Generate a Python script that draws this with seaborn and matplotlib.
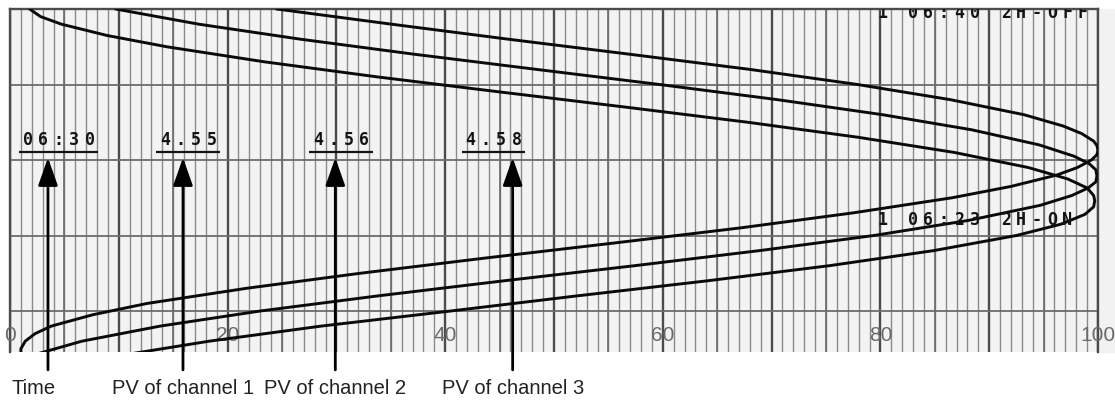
import matplotlib
matplotlib.use("Agg")
import matplotlib.pyplot as plt
import matplotlib.transforms as mtransforms
from matplotlib.patches import Rectangle
from matplotlib.ticker import MultipleLocator
import pandas as pd
import seaborn as sns

# chart paper: value scale 0..100 across, time runs upward in grid divisions
ch1_time = [4.00, 3.80, 3.60, 3.40, 3.20, 3.00, 2.80, 2.60, 2.45, 2.35, 2.25, 2.19, 2.13,
            2.07, 2.00, 1.90, 1.80, 1.65, 1.50, 1.30, 1.10, 0.90, 0.70, 0.50, 0.30, 0.10,
            -0.05, -0.20, -0.30, -0.40, -0.50, -0.56]
ch1_value = [24.5, 35.0, 45.8, 57.0, 68.0, 77.9, 86.4, 93.2, 96.8, 98.5, 99.6, 99.9, 100.0,
             99.9, 99.4, 98.1, 96.2, 92.0, 86.6, 77.5, 67.1, 55.5, 43.6, 32.2, 21.7, 12.6,
             7.6, 3.8, 2.3, 1.4, 1.0, 1.0]

ch2_time = [4.00, 3.80, 3.60, 3.40, 3.20, 3.00, 2.80, 2.60, 2.40, 2.20, 2.05, 1.95, 1.87,
            1.79, 1.71, 1.63, 1.53, 1.40, 1.20, 1.00, 0.80, 0.60, 0.40, 0.20, 0.00, -0.20,
            -0.40, -0.56]
ch2_value = [9.7, 17.3, 26.7, 37.2, 48.4, 59.7, 70.5, 80.2, 88.4, 94.6, 97.8, 99.2, 99.8,
             99.9, 99.8, 99.1, 97.6, 94.7, 88.1, 79.4, 68.9, 57.4, 45.4, 33.8, 23.0, 13.8,
             6.6, 2.7]

ch3_time = [4.00, 3.90, 3.80, 3.65, 3.50, 3.30, 3.10, 2.90, 2.70, 2.50, 2.30, 2.10, 1.90,
            1.75, 1.63, 1.53, 1.46, 1.38, 1.28, 1.15, 1.00, 0.80, 0.60, 0.40, 0.20, 0.00,
            -0.20, -0.40, -0.56]
ch3_value = [1.8, 2.8, 4.7, 8.9, 14.4, 23.4, 33.8, 45.1, 56.6, 67.8, 78.0, 86.8, 93.6,
             97.2, 99.0, 99.6, 99.7, 99.6, 98.8, 96.6, 92.5, 84.9, 75.3, 64.1, 52.1, 40.5,
             28.6, 18.3, 11.4]

scale_labels = [0, 20, 40, 60, 80, 100]
printed_values = ["06:30", "4.55", "4.56", "4.58"]
event_top = "1 06:40 2H-OFF"
event_mid = "1 06:23 2H-ON"
captions = ["Time", "PV of channel 1", "PV of channel 2", "PV of channel 3"]

# layout (data units of the paper)
print_x = [1.65, 14.25, 28.3, 42.3]
arrow_x = [3.49, 15.9, 29.9, 46.2]
pitch = 1.42


def dot_print(ax, x0, y, text, size=12):
    # recorder prints with a fixed wide character pitch
    for i, ch in enumerate(text):
        if ch == " ":
            continue
        ax.text(x0 + i * pitch, y, ch, ha="center", va="baseline",
                family="DejaVu Sans Mono", weight="bold", fontsize=size,
                color="#141414", clip_on=True, zorder=5)


def main() -> None:
    sns.set_style("white")
    plt.rcParams["font.family"] = ["Liberation Sans", "DejaVu Sans"]

    frames = []
    for name, t, v in [("ch1", ch1_time, ch1_value),
                       ("ch2", ch2_time, ch2_value),
                       ("ch3", ch3_time, ch3_value)]:
        frames.append(pd.DataFrame({"time": t, "value": v, "channel": name}))
    df = pd.concat(frames, ignore_index=True)

    fig = plt.figure(figsize=(11.15, 4.01), dpi=100)
    fig.patch.set_facecolor("white")
    ax = fig.add_axes([10 / 1115, 49 / 401, 1088 / 1115, 343 / 401])
    ax.set_facecolor("#f3f3f3")
    ax.set_xlim(0, 100)
    ax.set_ylim(-0.543, 4.0)

    # margin of paper to the right of the 100 line
    fig.patches.append(Rectangle((1098 / 1115, 49 / 401), 17 / 1115, 343 / 401,
                                 transform=fig.transFigure, color="#f2f2f2", zorder=-5))

    ax.xaxis.set_major_locator(MultipleLocator(10))
    ax.xaxis.set_minor_locator(MultipleLocator(1))
    ax.yaxis.set_major_locator(MultipleLocator(1))
    ax.grid(which="minor", axis="x", color="#8a8a8a", lw=1.0)
    ax.grid(which="major", axis="x", color="#4c4c4c", lw=1.7)
    ax.grid(which="major", axis="y", color="#6c6c6c", lw=1.3)
    for x in range(5, 100, 10):
        ax.axvline(x, color="#6a6a6a", lw=1.2, zorder=0.6)
    ax.set_axisbelow(True)
    ax.tick_params(which="both", length=0, labelbottom=False, labelleft=False)
    for side in ["left", "right", "top"]:
        ax.spines[side].set_color("#4c4c4c")
        ax.spines[side].set_linewidth(1.7)
    ax.spines["bottom"].set_visible(False)

    sns.lineplot(data=df, x="value", y="time", hue="channel", orient="y", sort=False,
                 estimator=None, palette=["#0a0a0a"] * 3, linewidth=2.1, legend=False,
                 ax=ax, zorder=4)
    ax.set_xlabel("")
    ax.set_ylabel("")

    for v in scale_labels:
        ax.text(v, -0.32, str(v), ha="center", va="center", color="#6a6a6a",
                family=["Liberation Sans Narrow", "Liberation Sans"], fontsize=15,
                clip_on=False, zorder=3)

    # printed values with underline and pointer arrows
    for x0, s in zip(print_x, printed_values):
        dot_print(ax, x0, 2.20, s)
        ax.hlines(2.11, x0 - 0.8, x0 + (len(s) - 1) * pitch + 0.8, color="#141414", lw=1.6, zorder=5)
    for xa in arrow_x:
        ax.annotate("", xy=(xa, 2.03), xytext=(xa, -0.78), annotation_clip=False,
                    arrowprops=dict(arrowstyle="-|>,head_length=0.85,head_width=0.3",
                                    mutation_scale=20, color="black", lw=2.0,
                                    shrinkA=0, shrinkB=0), zorder=6)

    dot_print(ax, 80.15, 3.88, event_top)
    dot_print(ax, 80.15, 1.14, event_mid)

    trans = mtransforms.blended_transform_factory(ax.transData, fig.transFigure)
    cap_y = (401 - 394) / 401
    fig.text(0.18, cap_y, captions[0], transform=trans, ha="left", va="baseline",
             fontsize=14.5, color="#222222")
    for xa, cap in zip(arrow_x[1:], captions[1:]):
        fig.text(xa, cap_y, cap, transform=trans, ha="center", va="baseline",
                 fontsize=14.5, color="#222222")

    fig.savefig("out.png", dpi=100)
    plt.close(fig)


if __name__ == "__main__":
    main()
